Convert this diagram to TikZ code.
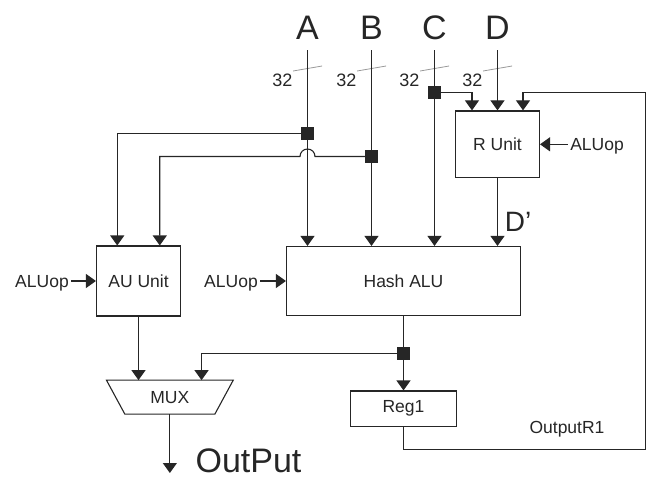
\documentclass[tikz,border=0pt]{standalone}
\usepackage{fontspec}
\setmainfont{Liberation Sans}
\usetikzlibrary{arrows.meta,calc}
\definecolor{ink}{HTML}{262626}
\newcommand\fsmall{\fontsize{17.5}{20}\selectfont}
\newcommand\fbig{\fontsize{34}{40}\selectfont}
\newcommand\fmid{\fontsize{28}{32}\selectfont}
\begin{document}
\begin{tikzpicture}[x=1pt,y=-1pt,color=ink,line width=1.1pt,
  box/.style={draw=ink,rectangle,inner sep=0pt,font=\fsmall},
  arr/.style={-{Triangle[width=14pt,length=10pt]}},
  junc/.style={fill=ink,minimum size=13pt,inner sep=0pt},
  lbl/.style={font=\fsmall,inner sep=2pt},
  big/.style={font=\fbig,inner sep=0pt},
  tickline/.style={draw=gray!80,line width=0.8pt},
  lblnum/.style={font=\fontsize{18}{20}\selectfont,inner sep=0pt}]
\useasboundingbox (0,0) rectangle (651,479);

% boxes
\node[box,minimum width=84pt,minimum height=70pt] (au) at (138.5,281) {AU Unit};
\node[box,minimum width=234pt,minimum height=69pt] (hash) at (403.5,281) {Hash ALU};
\node[box,minimum width=84pt,minimum height=66.7pt] (ru) at (497.5,144.3) {R Unit};
\node[box,minimum width=106.6pt,minimum height=35.2pt] (reg) at (403.5,408.6) {Reg1};
\node[inner sep=0pt,minimum width=125.7pt,minimum height=32.8pt,font=\fsmall] (mux) at (169.85,397.1) {MUX};
\draw (mux.north west) -- (mux.north east) -- ($(mux.south east)+(-18.35,0)$) -- ($(mux.south west)+(18.35,0)$) -- cycle;

% inputs
\node[big] (la) at (307.5,27.5) {A};
\node[big] (lb) at (371.5,27.5) {B};
\node[big] (lc) at (434.5,27.5) {C};
\node[big] (ld) at (497.5,27.5) {D};
\coordinate (a0) at (307.5,50);
\coordinate (b0) at (371.5,50);
\coordinate (c0) at (434.5,50);
\coordinate (d0) at (497.5,50);
\foreach \x/\n in {307.5/a,371.5/b,434.5/c,497.5/d}{
  \draw[tickline] (\x-14.4,71) -- (\x+14.6,66);
  \node[lblnum] (w\n) at (\x-25.2,80.5) {32};
}

% junctions
\node[junc] (ja) at (307.5,133.5) {};
\node[junc] (jb) at (371.5,156.5) {};
\node[junc] (jc) at (434.5,92.5) {};
\node[junc] (jm) at (403.5,353.5) {};

\draw[arr] (a0) -- (a0 |- hash.north);
\draw[arr] (b0) -- (b0 |- hash.north);
\draw[arr] (c0) -- (c0 |- hash.north);
\draw[arr] (d0) -- (d0 |- ru.north);
\draw[arr] (ru.south) -- (ru.south |- hash.north);
\node[font=\fmid,inner sep=0pt] (dp) at (518,222) {D’};

\coordinate (au1) at ($(au.north west)!0.25!(au.north east)$);
\coordinate (au2) at ($(au.north west)!0.75!(au.north east)$);
\draw[arr] (ja.center) -| (au1);
\coordinate (hopR) at ($(a0 |- jb)+(7.5,0)$);
\draw[arr] (jb.center) -- (hopR) arc[start angle=0,end angle=180,radius=7.5pt] -| (au2);

\coordinate (ru1) at ($(ru.north west)!0.2!(ru.north east)$);
\coordinate (ru3) at ($(ru.north west)!0.8!(ru.north east)$);
\draw[arr] (jc.center) -| (ru1);

% ALUop
\node[lbl,anchor=base] (op1) at (42,287.5) {ALUop};
\draw[arr] (op1.east |- au.west) -- (au.west);
\node[lbl,anchor=base] (op2) at (231,287.5) {ALUop};
\draw[arr] (op2.east |- hash.west) -- (hash.west);
\node[lbl,anchor=base] (op3) at (597,150) {ALUop};
\draw[arr] (op3.west |- ru.east) -- (ru.east);

% outputs
\draw[arr] (hash.south) -- (reg.north);
\coordinate (mx2) at ($(mux.north west)!0.75!(mux.north east)$);
\draw[arr] (jm.center) -| (mx2);
\draw[arr] (au.south) -- (au.south |- mux.north);
\coordinate (oend) at (169.85,473);
\draw[arr] (mux.south) -- (oend);
\node[big,anchor=base west,text depth=0pt] (out) at (195,472) {OutPut};

\coordinate (fb1) at (645.5,449.5);
\coordinate (fb2) at (645.5,92.5);
\draw[arr] (reg.south) |- (fb1) -- (fb2) -| (ru3);
\node[lbl] (or1) at (567,429) {OutputR1};
\end{tikzpicture}
\end{document}
